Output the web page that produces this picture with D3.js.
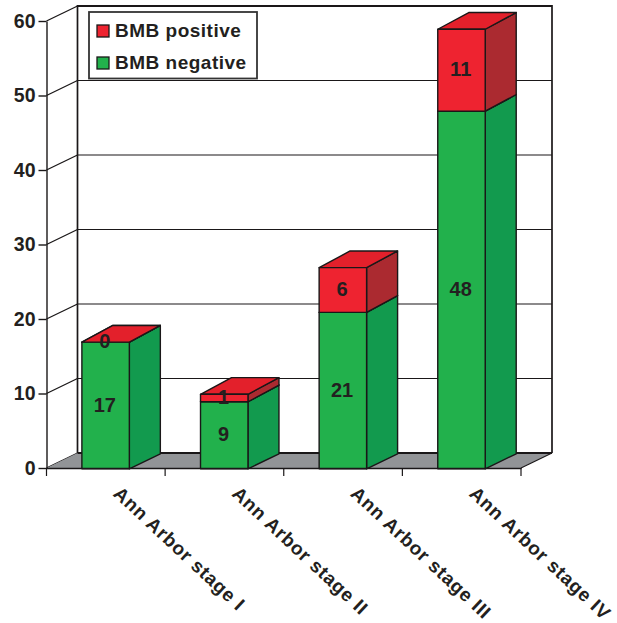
<!DOCTYPE html>
<html>
<head>
<meta charset="utf-8">
<script src="https://cdn.jsdelivr.net/npm/d3@7"></script>
<style>
  html, body { margin: 0; padding: 0; background: #fff; }
  svg { display: block; }
  text { font-family: "Liberation Sans", Arial, sans-serif; font-weight: bold; fill: #231f20; }
</style>
</head>
<body>
<svg id="chart" width="617" height="623"></svg>
<script>
// Bone marrow biopsy results by Ann Arbor stage
const stages = ["Ann Arbor stage I", "Ann Arbor stage II", "Ann Arbor stage III", "Ann Arbor stage IV"];
const bmbNegative = [17, 9, 21, 48];
const bmbPositive = [0, 1, 6, 11];
const yTicks = [0, 10, 20, 30, 40, 50, 60];
const legendLabels = ["BMB positive", "BMB negative"];

const ink = "#1a1718";
const depthX = 31, depthY = -15;   // oblique projection offset of the box depth
const raisedDepthY = -16.7;        // boxes lean a little more above the floor

const svg = d3.select("#chart");
const x = d3.scaleBand().domain(stages).range([46.5, 521]).paddingInner(0.6).paddingOuter(0.3);
const y = d3.scaleLinear().domain([0, 60]).range([468, 21]);

const poly = pts => pts.map(p => p.join(",")).join(" ");

// Back wall gridlines and their returns along the left wall
const [x0, x1] = x.range();
const wall = svg.append("g");
wall.selectAll("line.back").data(yTicks).join("line")
  .attr("x1", x0 + depthX).attr("x2", x1 + depthX)
  .attr("y1", d => y(d) + depthY).attr("y2", d => y(d) + depthY)
  .attr("stroke", ink).attr("stroke-width", d => d === 60 ? 2 : 1.2);
wall.selectAll("line.side").data(yTicks).join("line")
  .attr("x1", x0).attr("x2", x0 + depthX)
  .attr("y1", d => y(d)).attr("y2", d => y(d) + depthY)
  .attr("stroke", ink).attr("stroke-width", 1.3);
[x0 + depthX, x1 + depthX].forEach(px => {
  wall.append("line")
    .attr("x1", px).attr("x2", px)
    .attr("y1", y(60) + depthY - 1).attr("y2", y(0) + depthY)
    .attr("stroke", ink).attr("stroke-width", 1.7);
});

// Floor
wall.append("polygon")
  .attr("points", poly([[x0, y(0)], [x0 + depthX, y(0) + depthY], [x1 + depthX, y(0) + depthY], [x1, y(0)]]))
  .attr("fill", "#929497");
wall.append("line")
  .attr("x1", x0 + depthX).attr("x2", x1 + depthX)
  .attr("y1", y(0) + depthY).attr("y2", y(0) + depthY)
  .attr("stroke", ink).attr("stroke-width", 1.8);
wall.append("line")
  .attr("x1", x1).attr("x2", x1 + depthX)
  .attr("y1", y(0)).attr("y2", y(0) + depthY)
  .attr("stroke", ink).attr("stroke-width", 1.1);

// Stacked boxes
const rows = stages.map((s, i) => ({ stage: s, negative: bmbNegative[i], positive: bmbPositive[i] }));
const stack = d3.stack().keys(["negative", "positive"])(rows);
const shades = {
  negative: { front: "#22b14c", side: "#129a4e", top: "#22b14c" },
  positive: { front: "#ee2330", side: "#ab2a30", top: "#e3202b" }
};

const boxes = svg.append("g").attr("transform", "translate(-0.2,0.8)");
stack.forEach(layer => {
  const c = shades[layer.key];
  layer.forEach(seg => {
    const left = x(seg.data.stage), right = left + x.bandwidth();
    const yb = y(seg[0]), yt = y(seg[1]);
    const dyb = seg[0] === 0 ? depthY : raisedDepthY;
    const g = boxes.append("g")
      .attr("stroke", ink).attr("stroke-width", 1.4).attr("stroke-linejoin", "round");
    g.append("polygon").attr("fill", c.side)
      .attr("points", poly([[right, yb], [right + depthX, yb + dyb], [right + depthX, yt + raisedDepthY], [right, yt]]));
    g.append("polygon").attr("fill", c.top)
      .attr("points", poly([[left, yt], [left + depthX, yt + raisedDepthY], [right + depthX, yt + raisedDepthY], [right, yt]]));
    g.append("rect").attr("fill", c.front)
      .attr("x", left).attr("y", yt).attr("width", right - left).attr("height", yb - yt);
  });
});

// Value labels, centred on each front face
stack.forEach(layer => {
  svg.append("g").selectAll("text").data(layer).join("text")
    .attr("x", d => x(d.data.stage) + x.bandwidth() / 2 - 1)
    .attr("y", d => (y(d[0]) + y(d[1])) / 2 + 7)
    .attr("text-anchor", "middle")
    .attr("font-size", 20)
    .text(d => d[1] - d[0]);
});

// Front axes
const yAxis = svg.append("g").attr("transform", `translate(${x0},0)`)
  .call(d3.axisLeft(y).tickValues(yTicks).tickSize(8).tickPadding(3).tickSizeOuter(0));
yAxis.selectAll("path, line").attr("stroke", ink).attr("stroke-width", 1.4);
yAxis.selectAll("text").attr("font-size", 19.5).attr("fill", "#231f20")
  .style("font-family", '"Liberation Sans", Arial, sans-serif').style("font-weight", "bold");

const xAxis = svg.append("g").attr("transform", `translate(0,${y(0)})`)
  .call(d3.axisBottom(x).tickSize(0).tickFormat("").tickSizeOuter(0));
xAxis.selectAll("path").attr("stroke", ink).attr("stroke-width", 1.7);
xAxis.selectAll(".tick").remove();
xAxis.selectAll("line.sep").data(d3.range(stages.length + 1)).join("line")
  .attr("x1", i => x0 + i * x.step()).attr("x2", i => x0 + i * x.step())
  .attr("y1", 0).attr("y2", 8)
  .attr("stroke", ink).attr("stroke-width", 1.2);

// Slanted category labels
svg.append("g").selectAll("text").data(stages).join("text")
  .attr("transform", d => `translate(${x(d) + x.bandwidth() / 2 + 6.5},495) rotate(43)`)
  .attr("x", 0).attr("y", 0)
  .attr("font-size", 19)
  .attr("letter-spacing", 0.75)
  .text(d => d);

// Legend
const legend = svg.append("g");
legend.append("rect")
  .attr("x", 89).attr("y", 12).attr("width", 168).attr("height", 66.5)
  .attr("fill", "#fff").attr("stroke", "#333").attr("stroke-width", 1.8);
const swatch = [shades.positive.front, shades.negative.front];
legendLabels.forEach((label, i) => {
  const cy = 31 + i * 32;
  legend.append("rect")
    .attr("x", 97).attr("y", cy - 6).attr("width", 12).attr("height", 12)
    .attr("fill", swatch[i]).attr("stroke", ink).attr("stroke-width", 1.3);
  legend.append("text")
    .attr("x", 115).attr("y", cy + 5.5)
    .attr("font-size", 19)
    .attr("letter-spacing", 0.5)
    .text(label);
});
</script>
</body>
</html>
